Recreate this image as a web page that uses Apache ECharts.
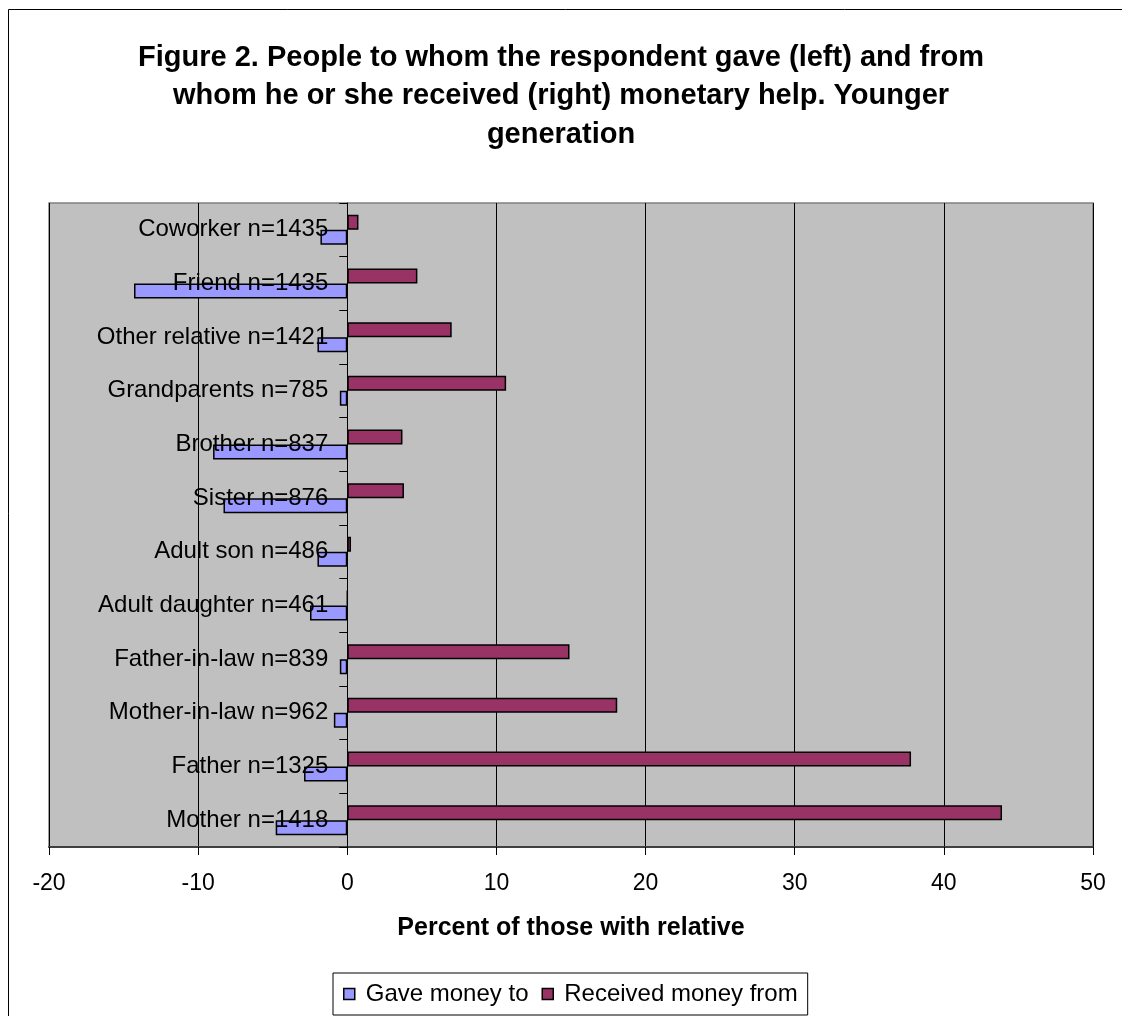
<!DOCTYPE html>
<html>
<head>
<meta charset="utf-8">
<script src="https://cdn.jsdelivr.net/npm/echarts@6/dist/echarts.min.js"></script>
<style>
html,body{margin:0;padding:0;background:#fff;}
#chart{width:1122px;height:1016px;}
</style>
</head>
<body>
<div id="chart"></div>
<script>
var categories = ['Mother n=1418','Father n=1325','Mother-in-law n=962','Father-in-law n=839','Adult daughter n=461','Adult son n=486','Sister n=876','Brother n=837','Grandparents n=785','Other relative n=1421','Friend n=1435','Coworker n=1435'];
var gaveMoney = [-4.8,-2.9,-0.9,-0.5,-2.5,-2.0,-8.3,-9.0,-0.5,-2.0,-14.3,-1.8];
var receivedMoney = [43.9,37.8,18.1,14.9,0,0.25,3.8,3.7,10.65,7.0,4.7,0.75];
var xTicks = [-20,-10,0,10,20,30,40,50];
var titleLines = ['Figure 2. People to whom the respondent gave (left) and from',
                  'whom he or she received (right) monetary help. Younger',
                  'generation'];
var FONT = 'Liberation Sans, Arial, sans-serif';
var GRID_LEFT = 49;

var chart = echarts.init(document.getElementById('chart'));
var titles = titleLines.map(function (t, i) {
  return {
    text: t, left: 'center', top: 43 + i * 38.5, padding: 0,
    textStyle: {fontFamily: FONT, fontSize: 29, fontWeight: 'bold', color: '#000'}
  };
});
var option = {
  animation: false,
  backgroundColor: '#fff',
  title: titles,
  graphic: [{
    type: 'rect', shape: {x: 8.5, y: 9.5, width: 1300, height: 1200},
    style: {fill: 'none', stroke: '#000', lineWidth: 1}, silent: true
  }],
  legend: {
    left: 333, top: 973,
    orient: 'horizontal',
    padding: [9, 10, 9, 10],
    borderColor: '#000', borderWidth: 1,
    itemWidth: 11, itemHeight: 11, itemGap: 13,
    icon: 'rect',
    itemStyle: {borderColor: '#000', borderWidth: 1.5},
    textStyle: {fontFamily: FONT, fontSize: 24, color: '#000', padding: [0, 0, 0, 6]},
    data: ['Gave money to', 'Received money from']
  },
  grid: {
    left: GRID_LEFT, right: 29, top: 203, bottom: 169,
    show: true, backgroundColor: '#C0C0C0', borderColor: '#808080', borderWidth: 1.5,
    containLabel: false, outerBoundsMode: 'none'
  },
  xAxis: {
    type: 'value', min: -20, max: 50, interval: 10,
    axisLine: {show: true, onZero: false, lineStyle: {color: '#404040', width: 2}},
    axisTick: {show: true, length: 8, lineStyle: {color: '#000'}},
    axisLabel: {fontFamily: FONT, fontSize: 23, color: '#000', margin: 25,
      formatter: function (v) { return xTicks.indexOf(v) >= 0 ? String(v) : ''; }},
    splitLine: {show: true, lineStyle: {color: '#000', width: 1}},
    name: 'Percent of those with relative',
    nameLocation: 'middle', nameGap: 69,
    nameTextStyle: {fontFamily: FONT, fontSize: 25, fontWeight: 'bold', color: '#000'}
  },
  yAxis: {
    type: 'category', data: categories, position: 'left', offset: 0, z: 5,
    axisLine: {show: true, onZero: false, lineStyle: {color: '#000', width: 1}},
    axisTick: {show: true, length: 8, lineStyle: {color: '#000'}},
    axisLabel: {fontFamily: FONT, fontSize: 24, color: '#000', margin: 19},
    splitLine: {show: false}
  },
  series: [
    {name: 'Received money from', type: 'bar', data: receivedMoney, barWidth: 15, barGap: '0%',
     itemStyle: {color: '#993366', borderColor: '#000', borderWidth: 1.5}},
    {name: 'Gave money to', type: 'bar', data: gaveMoney, barWidth: 15, barGap: '0%',
     itemStyle: {color: '#9999FF', borderColor: '#000', borderWidth: 1.5}}
  ]
};
chart.setOption(option);
// place the category axis (line, ticks and labels) at x = 0 of the value axis
var zeroPx = chart.convertToPixel({xAxisIndex: 0}, 0);
chart.setOption({yAxis: {offset: -(zeroPx - GRID_LEFT)}});
</script>
</body>
</html>
